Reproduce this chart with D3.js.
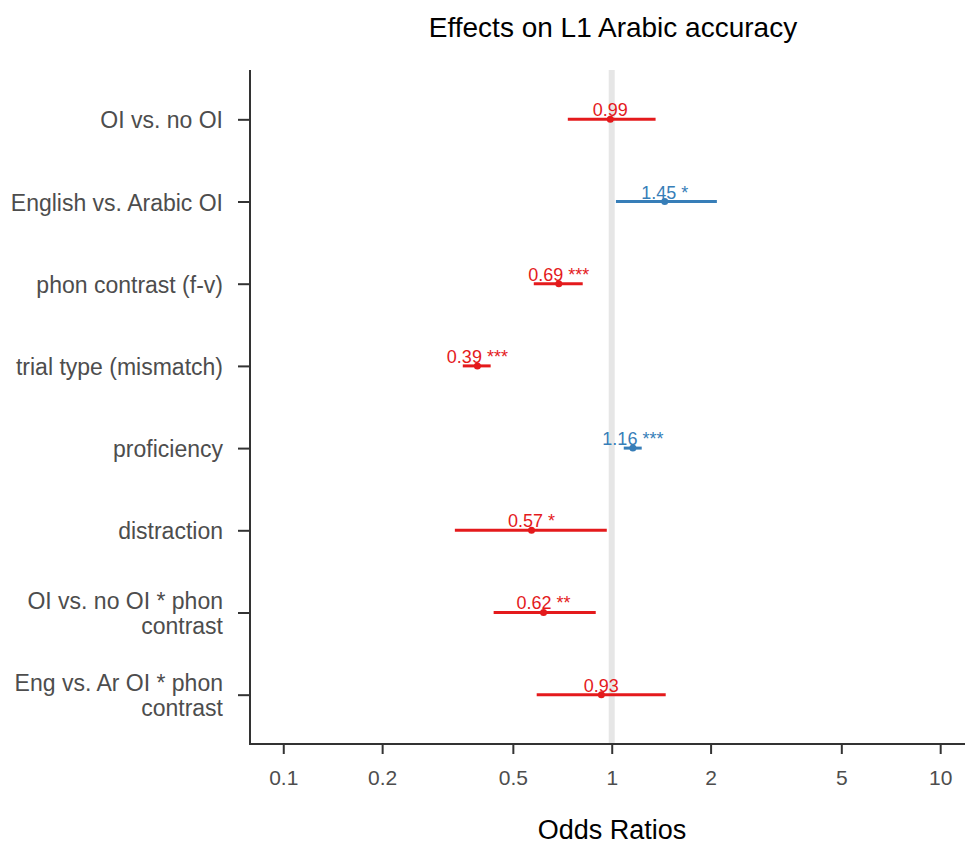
<!DOCTYPE html>
<html>
<head>
<meta charset="utf-8">
<script src="https://cdn.jsdelivr.net/npm/d3@7"></script>
<style>
  body { margin: 0; background: #fff; }
  text { font-family: "Liberation Sans", Arial, sans-serif; }
</style>
</head>
<body>
<svg id="chart"></svg>
<script>
// terms, top to bottom
var terms = [
  ["OI vs. no OI"],
  ["English vs. Arabic OI"],
  ["phon contrast (f-v)"],
  ["trial type (mismatch)"],
  ["proficiency"],
  ["distraction"],
  ["OI vs. no OI * phon", "contrast"],
  ["Eng vs. Ar OI * phon", "contrast"]
];
var estimates = [0.99, 1.45, 0.69, 0.39, 1.16, 0.57, 0.62, 0.93];
var ciLow = [0.735, 1.03, 0.579, 0.352, 1.088, 0.333, 0.437, 0.591];
var ciHigh = [1.36, 2.09, 0.816, 0.428, 1.234, 0.966, 0.894, 1.46];
var stars = ["", "*", "***", "***", "***", "*", "**", ""];
var xTicks = [0.1, 0.2, 0.5, 1, 2, 5, 10];

var width = 966, height = 844;
var plotLeft = 250, plotRight = 965, plotTop = 70, plotBottom = 744;
var red = "#e41a1c", blue = "#377eb8";

var svg = d3.select("#chart").attr("width", width).attr("height", height);

var x = d3.scaleLog().domain([0.0792, 11.9]).range([plotLeft, plotRight]);
var y = d3.scalePoint().domain(d3.range(terms.length)).range([plotTop, plotBottom]).padding(0.6);

// reference line at 1
svg.append("line")
  .attr("x1", x(1)).attr("x2", x(1))
  .attr("y1", plotTop).attr("y2", plotBottom)
  .style("stroke", "#e6e6e6")
  .style("stroke-width", 6);

// axes
var xAxis = svg.append("g")
  .attr("transform", "translate(0," + plotBottom + ")")
  .call(d3.axisBottom(x).tickValues(xTicks).tickFormat(function(d) { return String(d); }).tickSizeOuter(0).tickSize(10).tickPadding(16));
xAxis.select(".domain").style("stroke", "#333").style("stroke-width", 2)
  .attr("d", "M" + (plotLeft - 1) + ",0H" + plotRight);
xAxis.selectAll(".tick line").style("stroke", "#333").style("stroke-width", 2);
xAxis.selectAll(".tick text").style("font-size", "21px").style("fill", "#4d4d4d");

var yAxis = svg.append("g")
  .attr("transform", "translate(" + plotLeft + ",0)")
  .call(d3.axisLeft(y).tickSizeOuter(0).tickSize(12).tickFormat(""));
yAxis.select(".domain").style("stroke", "#333").style("stroke-width", 2)
  .attr("d", "M0," + plotTop + "V" + (plotBottom + 1));
yAxis.selectAll(".tick line").style("stroke", "#333").style("stroke-width", 2);

// term labels (may wrap to two lines)
var labels = svg.append("g").selectAll("text")
  .data(terms)
  .enter().append("text")
  .attr("text-anchor", "end")
  .style("font-size", "23px")
  .style("fill", "#4d4d4d")
  .attr("transform", function(d, i) { return "translate(" + (plotLeft - 27) + "," + y(i) + ")"; });
labels.each(function(d) {
  var t = d3.select(this);
  var n = d.length;
  d.forEach(function(line, k) {
    t.append("tspan")
      .attr("x", 0)
      .attr("y", (k - (n - 1) / 2) * 25 + 9)
      .text(line);
  });
});

// error bars
var idx = d3.range(terms.length);
function col(i) { return estimates[i] > 1 ? blue : red; }

svg.append("g").selectAll("line")
  .data(idx)
  .enter().append("line")
  .attr("x1", function(i) { return x(ciLow[i]); })
  .attr("x2", function(i) { return x(ciHigh[i]); })
  .attr("y1", function(i) { return y(i); })
  .attr("y2", function(i) { return y(i); })
  .style("stroke", col)
  .style("stroke-width", 3);

svg.append("g").selectAll("circle")
  .data(idx)
  .enter().append("circle")
  .attr("cx", function(i) { return x(estimates[i]); })
  .attr("cy", function(i) { return y(i); })
  .attr("r", 3.5)
  .style("fill", col);

svg.append("g").selectAll("text")
  .data(idx)
  .enter().append("text")
  .attr("x", function(i) { return x(estimates[i]); })
  .attr("y", function(i) { return y(i) - 3; })
  .attr("text-anchor", "middle")
  .style("font-size", "18px")
  .style("fill", col)
  .text(function(i) { return estimates[i].toFixed(2) + (stars[i] ? " " + stars[i] : ""); });

// titles
svg.append("text")
  .attr("x", 613).attr("y", 37)
  .attr("text-anchor", "middle")
  .style("font-size", "28px")
  .style("fill", "#000")
  .text("Effects on L1 Arabic accuracy");

svg.append("text")
  .attr("x", 612).attr("y", 839)
  .attr("text-anchor", "middle")
  .style("font-size", "27px")
  .style("fill", "#000")
  .text("Odds Ratios");
</script>
</body>
</html>
